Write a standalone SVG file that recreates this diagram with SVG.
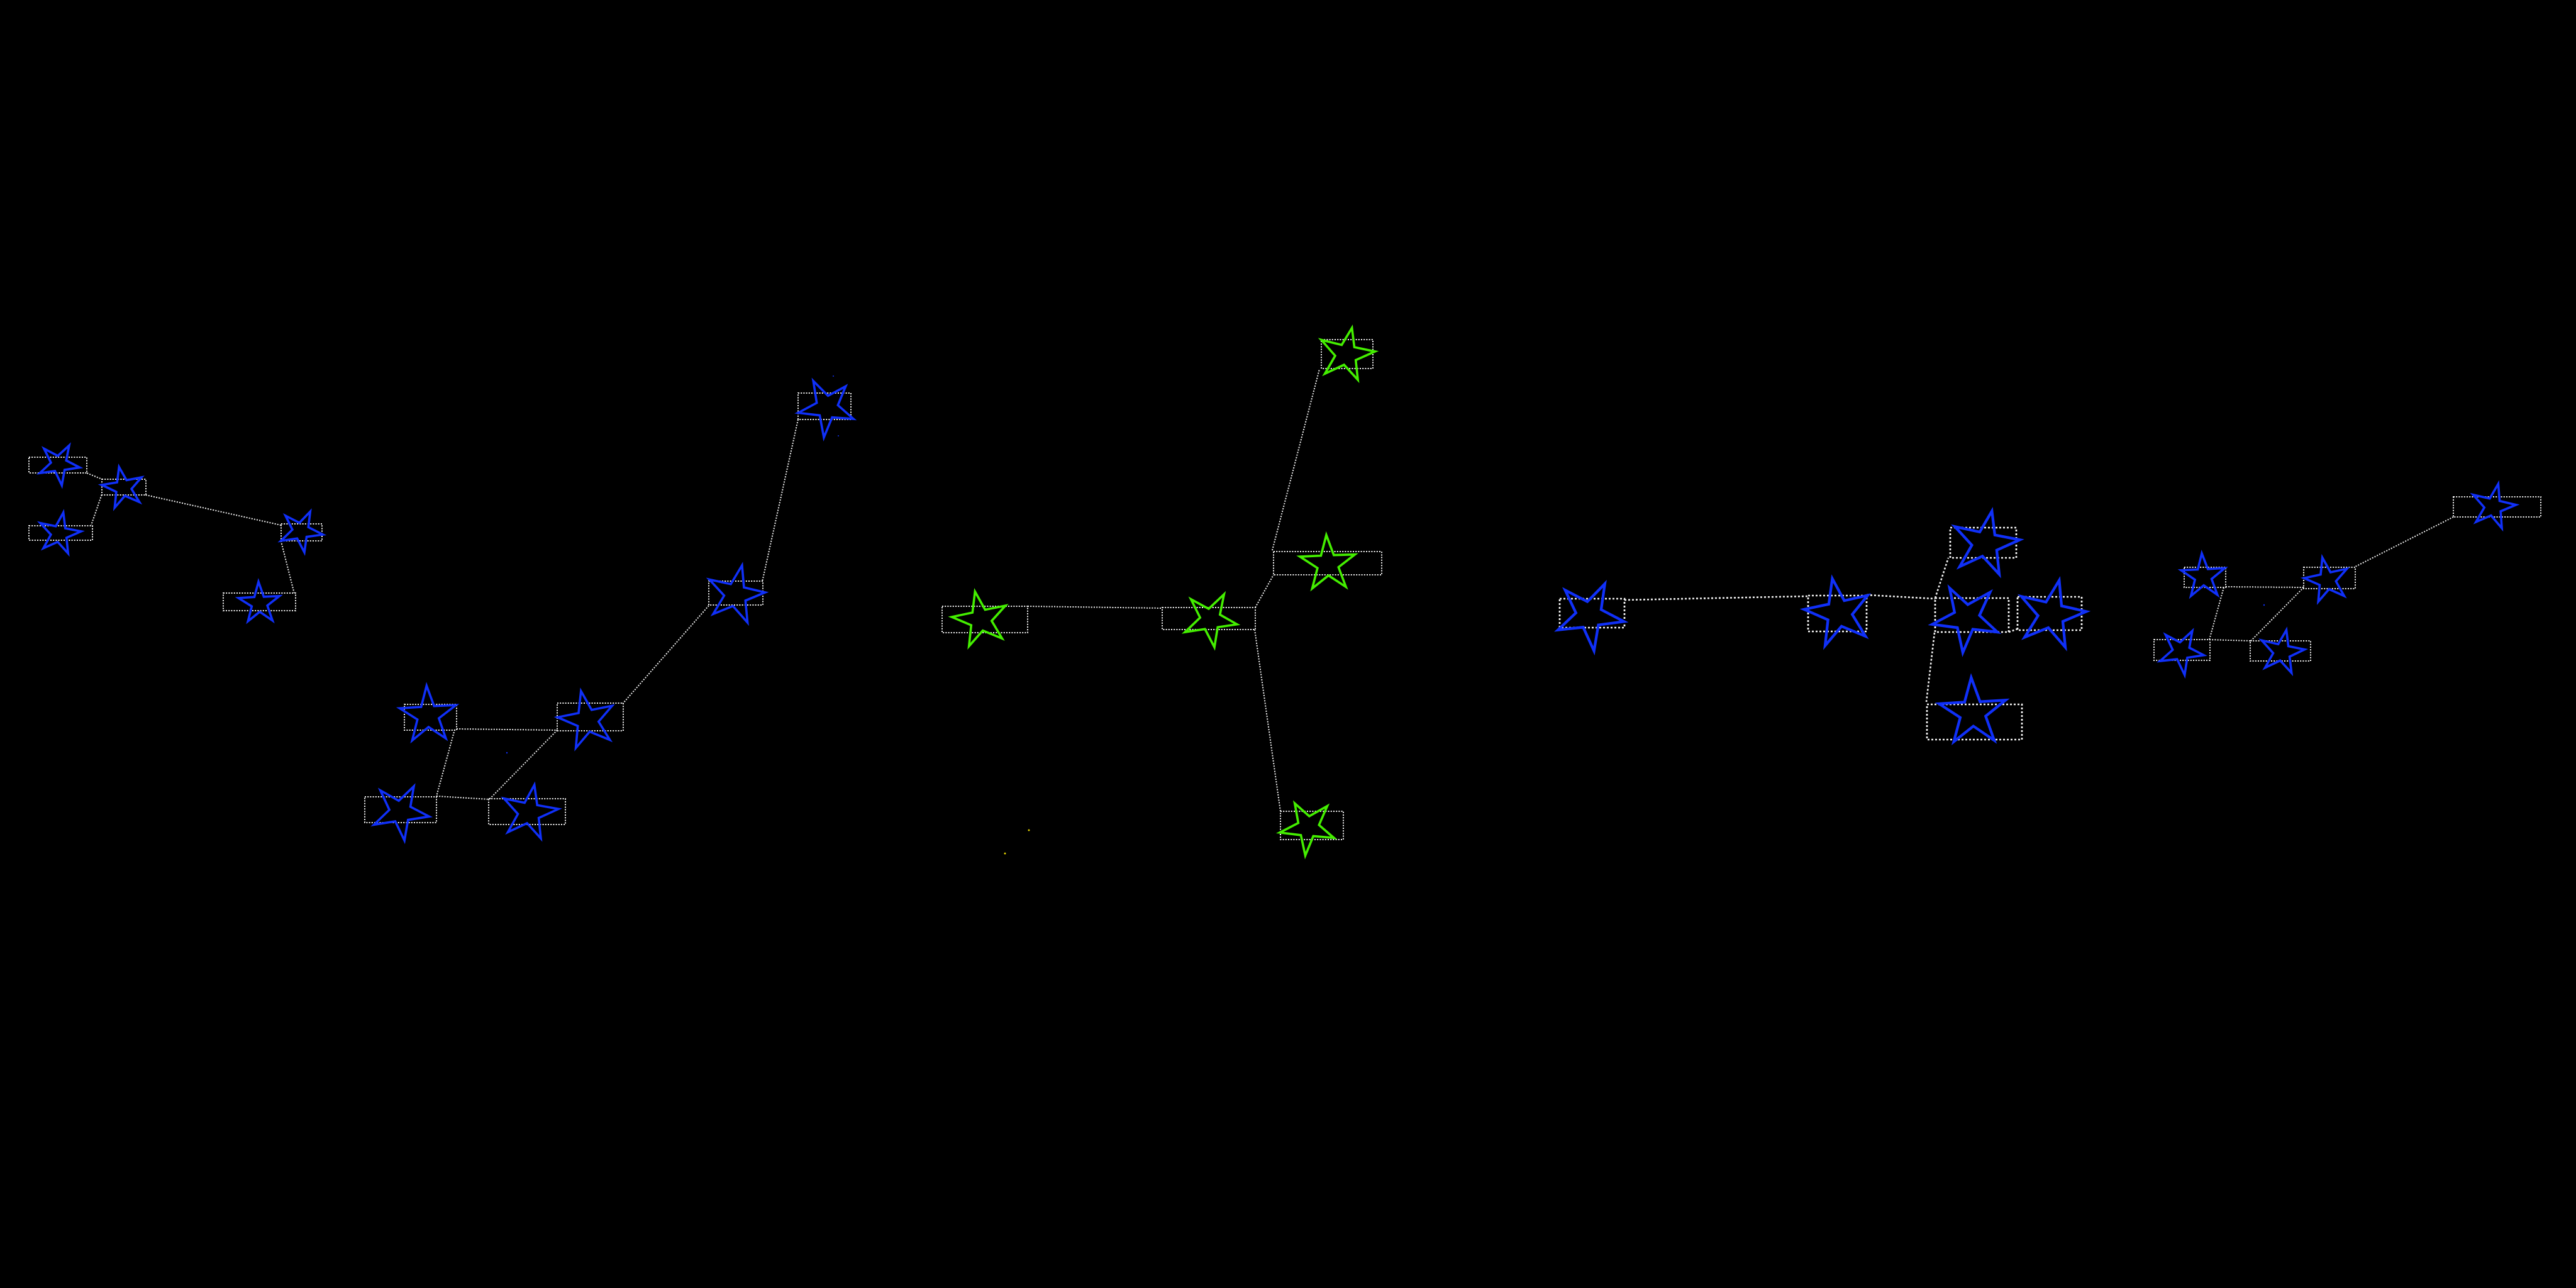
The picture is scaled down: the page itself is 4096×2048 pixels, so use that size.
<svg xmlns="http://www.w3.org/2000/svg" width="4096" height="2048" viewBox="0 0 4096 2048">
<style>
.bg{fill:#000}
.box{fill:none;stroke:#f4f4f4;stroke-width:2;stroke-dasharray:2 2.2}
.boxL{fill:none;stroke:#f4f4f4;stroke-width:2.7;stroke-dasharray:3 3}
.conn line{stroke:#f0f0f0;stroke-width:2;stroke-dasharray:2 2.2}
.conn line.L{stroke-width:2.6;stroke-dasharray:3 3}
.sb{fill:none;stroke:#1030f8;stroke-width:3.6;stroke-linejoin:miter}
.sbL{fill:none;stroke:#1030f8;stroke-width:4.3;stroke-linejoin:miter}
.sg{fill:none;stroke:#44ee00;stroke-width:3.6;stroke-linejoin:miter}
</style>
<rect class="bg" x="0" y="0" width="4096" height="2048"/>
<g id="connectors" class="conn">
<line x1="138.3" y1="752.3" x2="161.7" y2="761.7"/>
<line x1="161.7" y1="786.7" x2="145" y2="835"/>
<line x1="231.7" y1="787" x2="446.7" y2="835"/>
<line x1="446.7" y1="860" x2="467.7" y2="942.7"/>
<line x1="1269" y1="667" x2="1212" y2="925"/>
<line x1="1127" y1="963" x2="990" y2="1119"/>
<line x1="886" y1="1161" x2="778" y2="1271"/>
<line x1="726" y1="1159" x2="886" y2="1161"/>
<line x1="723" y1="1160" x2="694" y2="1266"/>
<line x1="694" y1="1266" x2="778" y2="1271"/>
<line x1="1634" y1="964" x2="1848" y2="967"/>
<line x1="1996" y1="966" x2="2025" y2="914"/>
<line x1="2023" y1="875" x2="2098" y2="587"/>
<line x1="1995" y1="1001" x2="2036" y2="1290"/>
<line class="L" x1="2583" y1="954" x2="2875" y2="948"/>
<line class="L" x1="2968" y1="946" x2="3077" y2="952"/>
<line class="L" x1="3077" y1="951" x2="3098" y2="887"/>
<line class="L" x1="3076" y1="1006" x2="3063" y2="1116"/>
<line class="L" x1="3194" y1="1005" x2="3208" y2="1000"/>
<line x1="3901" y1="822" x2="3745" y2="901"/>
<line x1="3539" y1="933" x2="3663" y2="934"/>
<line x1="3663" y1="934" x2="3579" y2="1019"/>
<line x1="3536" y1="934" x2="3513" y2="1017"/>
<line x1="3513" y1="1017" x2="3579" y2="1019"/>
</g>
<g id="n1a"><rect class="box" x="46" y="727" width="92" height="25"/><polygon class="sb" points="110,708.3 105.3,732.2 126.7,743.3 102.7,747.1 98.3,771.7 87.4,749 63.3,752.3 81,735.7 70,713.3 91.9,724.8"/></g>
<g id="n1b"><rect class="box" x="162" y="762" width="70" height="25"/><polygon class="sb" points="189.3,742.7 201.2,763.6 225,759 209.1,777.4 221.7,798.3 198.6,788.3 182.3,807.3 184.9,782 161.7,771 186.2,767"/></g>
<g id="n1c"><rect class="box" x="46" y="836" width="101" height="23"/><polygon class="sb" points="100.7,815 103.8,839.9 129,845 105.7,855.2 108.3,880 91.7,861.6 69,871.7 80.9,850.1 64,831.7 88.8,836.7"/></g>
<g id="n1d"><rect class="box" x="447" y="833" width="65" height="27"/><polygon class="sb" points="493.3,813.3 490.3,838.3 513.3,850 487.5,853.6 484,878.3 472.5,856.2 446.7,860 464.9,842.2 454,820 476.1,831.3"/></g>
<g id="n1e"><rect class="box" x="355" y="943" width="115" height="28"/><polygon class="sb" points="411,925 419.4,948.9 444.3,947.7 425.1,962.9 433.3,986.7 413,972.8 394.3,987.7 400.3,964.2 379.3,951 404.5,949.3"/></g>
<g id="n2a"><rect class="box" x="1269" y="625" width="84" height="42"/><polygon class="sb" points="1293.2,605.7 1316.6,629.3 1344.7,614.3 1332.3,644.3 1357,666 1323.1,663.6 1310,695.7 1303.4,660.4 1269.1,656.4 1298.7,640.6"/></g>
<g id="n2b"><rect class="box" x="1127" y="924" width="86" height="38"/><polygon class="sb" points="1179.9,898.9 1182.9,934 1216.6,941.9 1185.3,955 1188.6,989.9 1165.4,963.6 1134,976.4 1151.4,947.1 1127.9,921.4 1162,928.8"/></g>
<g id="n2c"><rect class="box" x="886" y="1118" width="105" height="44"/><polygon class="sb" points="923.8,1098.9 940.7,1128.7 973.3,1122.3 951.8,1147.4 969.7,1176.4 937.6,1163.3 915.6,1189.3 918.7,1154.3 886.5,1140.5 920,1133.7"/></g>
<g id="n2d"><rect class="box" x="643" y="1120" width="83" height="41"/><polygon class="sb" points="678.3,1090.3 690.2,1122.7 724.8,1121.3 697.8,1142.2 708.9,1174 681.4,1155.9 655.4,1177.3 663.7,1144.1 635.5,1126.2 669.7,1124"/></g>
<g id="n2e"><rect class="box" x="580" y="1267" width="114" height="41"/><polygon class="sb" points="658,1250.4 652.6,1282.8 682.4,1298.4 648.8,1303.6 643.1,1336.5 628.5,1306 594.7,1311.3 619.1,1287.7 604.8,1256.7 634.1,1273.2"/></g>
<g id="n2f"><rect class="box" x="777" y="1270" width="122" height="41"/><polygon class="sb" points="849.7,1248.1 854.2,1280.2 888,1286.3 856.6,1300.7 860,1333.2 838.1,1308.9 807.5,1323.2 823.5,1294.3 801.4,1269.7 834.2,1276.4"/></g>
<g id="n3a"><rect class="box" x="2101" y="540" width="82" height="46"/><polygon class="sg" points="2149.7,521.4 2153.5,552.1 2186.4,558.9 2155.7,572.7 2159.1,603.9 2137.1,580 2106.6,594.3 2123,565.6 2100.9,540.4 2133.4,548.5"/></g>
<g id="n3b"><rect class="box" x="2025" y="877" width="172" height="37"/><polygon class="sg" points="2108.9,850.7 2120.8,882.6 2154.4,881.7 2128.3,901.9 2140.1,933.2 2112.3,915 2086.5,935.6 2094.9,903.2 2066.9,885.1 2100.4,883.5"/></g>
<g id="n3c"><rect class="box" x="1848" y="966" width="148" height="35"/><polygon class="sg" points="1946.3,945 1939.8,977.3 1966.9,992.8 1936.2,997.3 1931,1029.2 1916,1000.3 1884.2,1005.1 1908.2,982 1893.7,952.9 1921.9,968.1"/></g>
<g id="n3d"><rect class="box" x="1498" y="964" width="136" height="42"/><polygon class="sg" points="1550.3,940.6 1566.4,969.4 1598.7,963 1576.8,987.2 1593.4,1015.2 1562.7,1002.6 1540.7,1027.5 1544.3,994.1 1513.4,981 1546.3,974.1"/></g>
<g id="n3e"><rect class="box" x="2036" y="1290" width="100" height="45"/><polygon class="sg" points="2058.7,1277.4 2081.8,1297.8 2110.4,1281.7 2097.3,1311.8 2121,1332.3 2088.2,1329.5 2075.5,1360.4 2068.5,1327.9 2034.9,1323.8 2064.4,1308.6"/></g>
<g id="n4a"><rect class="boxL" x="2480" y="952" width="103" height="46"/><polygon class="sbL" points="2551.8,928.3 2545.9,969.4 2582.3,988.3 2541.5,993.6 2534.6,1035 2517.4,997.4 2477.2,1001.7 2505.8,974.5 2488.7,938.3 2524,956.7"/></g>
<g id="n4b"><rect class="boxL" x="2875" y="947" width="93" height="57"/><polygon class="sbL" points="2913.5,920 2932.5,955 2969.8,946.7 2945.2,977 2966.3,1011.7 2928.1,995.8 2902,1026.7 2906.6,985.6 2868.7,969 2907.9,960.7"/></g>
<g id="n4c"><rect class="boxL" x="3101" y="839" width="105" height="48"/><polygon class="sbL" points="3167.3,812.7 3171.9,850.6 3211.7,858.3 3174.9,874.9 3179,913.3 3152.3,884.3 3116,901 3135.4,866.9 3108.3,837.3 3147.9,845.9"/></g>
<g id="n4d"><rect class="boxL" x="3077" y="951" width="117" height="54"/><polygon class="sbL" points="3100,935 3128.9,961.3 3164.3,941.7 3147.5,978.5 3176,1005 3136.9,1000.5 3121,1037.7 3112.4,998 3072.3,992.7 3107.9,973.8"/></g>
<g id="n4e"><rect class="boxL" x="3208" y="949" width="102" height="53"/><polygon class="sbL" points="3274.3,922.7 3278,963.4 3317.3,972.3 3280,988.2 3284,1029.3 3257,998 3219.3,1013.3 3240.6,979 3214,948.3 3253.3,957.3"/></g>
<g id="n4f"><rect class="boxL" x="3064" y="1120" width="151" height="56"/><polygon class="sbL" points="3134.3,1077.3 3148.4,1115.7 3189,1113.3 3157.3,1138.7 3171,1177.3 3137.8,1154.6 3106.7,1179.3 3116.9,1140.9 3083.3,1119 3123.8,1116.4"/></g>
<g id="n6a"><rect class="box" x="3901" y="790" width="139" height="32"/><polygon class="sb" points="3972.4,769.3 3974.5,796.5 4000.6,802.7 3976.2,813 3978.1,840 3960.9,819.7 3936.9,830 3950.2,806.9 3932.5,786.7 3958.8,792.7"/></g>
<g id="n6b"><rect class="box" x="3663" y="902" width="82" height="34"/><polygon class="sb" points="3692.7,886.7 3705.7,910 3731.7,904.3 3714.3,924.3 3727.4,947.7 3703.3,936.8 3686.2,956.7 3688.4,930.1 3663.7,919.3 3690,913.5"/></g>
<g id="n6c"><rect class="box" x="3473" y="902" width="66" height="32"/><polygon class="sb" points="3501,880 3510.7,904.8 3537.5,903.3 3516.6,920.5 3525.8,945.7 3504.1,930.7 3483.7,947.7 3490.1,921.8 3468.1,906.7 3494.6,905.6"/></g>
<g id="n6d"><rect class="box" x="3425" y="1017" width="89" height="33"/><polygon class="sb" points="3485.9,1003.3 3481.2,1029.9 3504.1,1041.7 3477.9,1045.8 3473.7,1073.3 3461.7,1048.1 3434.7,1051 3454.7,1033.4 3443.4,1009.3 3466.3,1021.4"/></g>
<g id="n6e"><rect class="box" x="3578" y="1019" width="96" height="32"/><polygon class="sb" points="3635.5,1001.7 3638.6,1027.4 3664.5,1032.7 3640.6,1044 3643.7,1070 3625.6,1050.3 3601.6,1061.7 3614.5,1038.5 3596.4,1018.3 3622.5,1024.2"/></g>
<g id="specks">
<circle cx="1636" cy="1320" r="1.5" fill="#e8d800"/>
<circle cx="1598" cy="1357" r="1.5" fill="#e8d800"/>
<circle cx="806" cy="1197" r="1.2" fill="#1030f8"/>
<circle cx="1325" cy="598" r="1" fill="#1030f8"/>
<circle cx="1333" cy="693" r="1" fill="#1030f8"/>
<circle cx="3600" cy="962" r="1.2" fill="#1030f8"/>
</g>
</svg>
